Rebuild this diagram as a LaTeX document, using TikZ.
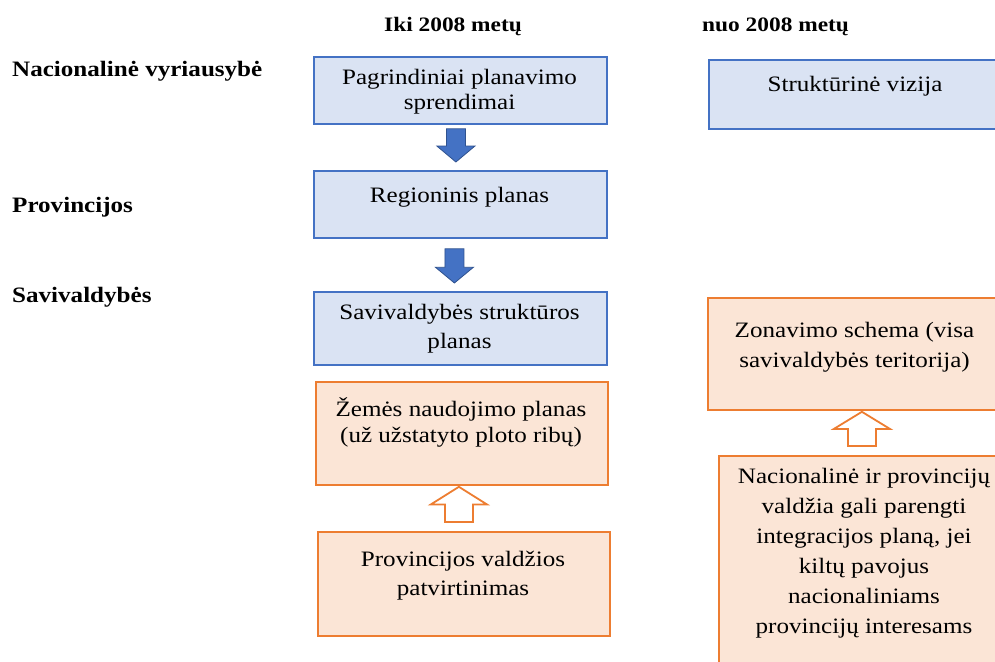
\documentclass[tikz,border=0pt]{standalone}
\usepackage{fontspec}
\setmainfont{Liberation Serif}[FakeStretch=1.14]
\usetikzlibrary{calc}

\definecolor{blueline}{HTML}{4472C4}
\definecolor{bluefill}{HTML}{DAE3F3}
\definecolor{bluedark}{HTML}{2F528F}
\definecolor{orangeline}{HTML}{ED7D31}
\definecolor{orangefill}{HTML}{FBE5D6}

% block arrow from tail point #2 to tip point #3;
% #4 = half shaft width, #5 = head length as fraction of the whole
\newcommand{\blockarrow}[5]{%
  \draw[#1] let \p1=(#2), \p2=(#3), \p3=($(#3)!#5!(#2)$) in
    (\x1-#4,\y1) -- (\x1+#4,\y1) -- (\x1+#4,\y3) -- (\x1+2*#4,\y3)
    -- (\x2,\y2) -- (\x1-2*#4,\y3) -- (\x1-#4,\y3) -- cycle;}

\tikzset{
  box/.style={rectangle, line width=1.8pt, anchor=north west, inner sep=0pt},
  bluebox/.style={box, draw=blueline, fill=bluefill},
  orangebox/.style={box, draw=orangeline, fill=orangefill},
  boxtext/.style={align=center, inner sep=0pt, anchor=north,
    font=\fontsize{22}{#1}\selectfont,
    execute at begin node={\rule{0pt}{21pt}}},
  boxtext/.default=26,
  rowlabel/.style={anchor=base west, inner sep=0pt,
    font=\fontsize{22}{26}\selectfont\bfseries},
  colhead/.style={anchor=base west, inner sep=0pt,
    font=\fontsize{20.5}{24}\selectfont\bfseries},
  bluearrow/.style={fill=blueline, draw=bluedark, line width=0.8pt, line join=miter},
  hollowarrow/.style={fill=white, draw=orangeline, line width=1.8pt, line join=miter}
}

\begin{document}
\begin{tikzpicture}[x=1pt, y=-1pt]
\clip (0,0) rectangle (995,661);
\fill[white] (0,0) rectangle (995,661);

% column headings
\node[colhead] (h1) at (384,32) {Iki 2008 metų};
\node[colhead] (h2) at (702,32) {nuo 2008 metų};

% level labels
\node[rowlabel] (l1) at (12,77) {Nacionalinė vyriausybė};
\node[rowlabel] (l2) at (12,212) {Provincijos};
\node[rowlabel] (l3) at (12,302) {Savivaldybės};

% left column boxes
\node[bluebox, minimum width=293pt, minimum height=67pt] (A) at (313,56) {};
\node[boxtext=25] (At) at (459.5,69) {Pagrindiniai planavimo\\sprendimai};

\node[bluebox, minimum width=293pt, minimum height=67pt] (B) at (313,170) {};
\node[boxtext] (Bt) at (459.5,181) {Regioninis planas};

\node[bluebox, minimum width=293pt, minimum height=73pt] (C) at (313,291) {};
\node[boxtext=29] (Ct) at (459.5,304) {Savivaldybės struktūros\\planas};

\node[orangebox, minimum width=292pt, minimum height=103pt] (D) at (315,381) {};
\node[boxtext=26] (Dt) at (461,397) {Žemės naudojimo planas\\(už užstatyto ploto ribų)};

\node[orangebox, minimum width=292pt, minimum height=104pt] (E) at (317,531) {};
\node[boxtext=29] (Et) at (463,551) {Provincijos valdžios\\patvirtinimas};

% right column boxes
\node[bluebox, minimum width=294pt, minimum height=69pt] (F) at (708,59) {};
\node[boxtext] (Ft) at (855,70) {Struktūrinė vizija};

\node[orangebox, minimum width=295pt, minimum height=112pt] (Z) at (707,297) {};
\node[boxtext=30] (Zt) at (854.5,322) {Zonavimo schema (visa\\savivaldybės teritorija)};

\node[orangebox, minimum width=292pt, minimum height=220pt] (G) at (718,455) {};
\node[boxtext=30] (Gt) at (864,468) {Nacionalinė ir provincijų\\valdžia gali parengti\\integracijos planą, jei\\kiltų pavojus\\nacionaliniams\\provincijų interesams};

% connecting block arrows
\coordinate (a1tail) at ($(A.south)+(-4.5,4)$);
\coordinate (a1tip)  at ($(B.north)+(-4.5,-8)$);
\coordinate (a2tail) at ($(B.south)+(-6,10)$);
\coordinate (a2tip)  at ($(C.north)+(-6,-8)$);
\coordinate (a3tail) at ($(E.north)+(-5,-9)$);
\coordinate (a3tip)  at ($(D.south)+(-3,1)$);
\coordinate (a4tail) at ($(G.north)+(-3,-9)$);
\coordinate (a4tip)  at ($(Z.south)+(6.5,1)$);

\blockarrow{bluearrow}{a1tail}{a1tip}{9.5pt}{0.48}
\blockarrow{bluearrow}{a2tail}{a2tip}{9.5pt}{0.46}
\blockarrow{hollowarrow}{a3tail}{a3tip}{14pt}{0.5}
\blockarrow{hollowarrow}{a4tail}{a4tip}{14pt}{0.5}
\end{tikzpicture}
\end{document}
